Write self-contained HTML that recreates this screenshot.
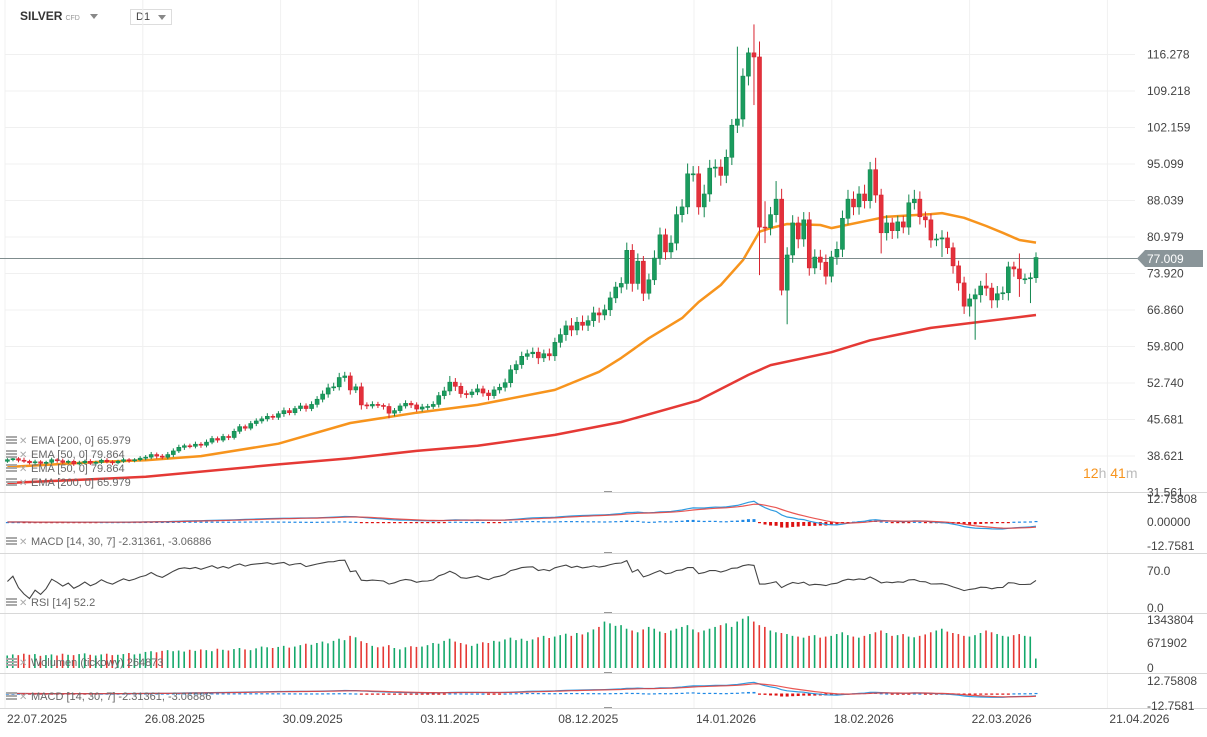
<!DOCTYPE html>
<html><head><meta charset="utf-8"><style>
html,body{margin:0;padding:0;background:#fff;width:1207px;height:737px;overflow:hidden;font-family:"Liberation Sans",sans-serif}
#hdr{position:absolute;left:20px;top:9px;font-size:12px;font-weight:bold;color:#333}
#cfd{font-size:7px;color:#999;font-weight:normal;margin-left:3px}
#tri{display:inline-block;width:0;height:0;border-left:4px solid transparent;border-right:4px solid transparent;border-top:5px solid #888;margin-left:10px;vertical-align:middle}
#tf{position:absolute;left:130px;top:9px;width:42px;height:16px;border:1px solid #ddd;font-size:11px;color:#444;box-sizing:border-box;padding:1px 5px}
#tf span{position:absolute;right:5px;top:5px;border-left:4px solid transparent;border-right:4px solid transparent;border-top:5px solid #888;width:0;height:0}
svg{position:absolute;left:0;top:0}
</style></head><body>
<div id="hdr">SILVER<span id="cfd">CFD</span><span id="tri"></span></div>
<div id="tf">D1<span></span></div>
<svg id="chart" width="1207" height="737"></svg>
<script>
const closes=[37.9,38.1,37.8,37.6,37.3,37.5,37.2,37.4,37.9,37.7,37.4,37.6,37.1,37.3,37.6,37.2,37.4,37.8,37.5,37.3,37.6,37.9,37.7,37.9,38.2,
38.4,38.9,38.6,38.4,38.9,39.6,40.3,40.6,40.5,40.9,40.7,41.3,42.0,41.7,42.4,42.2,43.4,44.3,44.0,44.9,45.4,
45.8,46.3,46.1,46.8,47.4,47.0,47.8,48.3,47.8,48.6,49.6,50.6,51.8,52.0,53.8,54.1,51.4,52.0,48.5,
48.3,48.6,48.4,48.2,46.9,47.4,48.3,48.8,48.5,47.7,48.1,48.2,48.6,50.3,51.2,52.9,
52.1,50.7,50.5,51.0,51.6,50.8,50.3,51.4,51.9,52.8,55.3,56.3,57.9,58.4,58.7,
57.6,58.4,58.0,60.6,62.1,63.8,63.0,64.5,63.9,64.8,66.3,
65.9,66.9,69.2,71.3,72.0,78.4,72.0,76.3,70.1,72.7,76.9,81.4,78.1,79.8,85.3,86.8,93.2,93.2,86.8,89.3,
94.3,94.5,92.9,96.4,102.6,103.8,112.1,116.6,115.8,82.9,82.8,85.3,88.3,70.7,77.5,83.7,80.6,84.3,75.0,77.1,
76.1,73.4,77.1,78.6,84.6,88.3,86.8,89.3,88.0,94.0,89.1,81.8,83.7,82.2,83.9,82.9,87.6,88.3,84.9,84.3,
80.4,80.6,80.8,78.9,75.4,72.1,67.6,69.0,69.8,71.5,71.1,68.8,70.0,70.2,75.2,74.8,72.9,72.9,73.1,77.01];
const firstOpen=37.6;
const upperWick=[.3,.4,.3,.5,.3,.4,.3,.3,.4,.3,.4,.3,.3,.4,.3,.4,.3,.3,.4,.3,.3,.4,.3,.3,.4,
.4,.5,.4,.4,.5,.5,.5,.4,.4,.5,.4,.5,.5,.4,.5,.4,.5,.5,.4,.5,.5,.5,.6,.4,.5,.6,.5,.5,.6,.5,.6,.6,.7,.8,.8,.9,.8,.7,.6,.8,
.5,.6,.5,.4,.6,.5,.5,.6,.5,.5,.6,.5,.6,.7,.8,1.2,.8,.7,.6,.6,.9,.6,.6,.7,.7,.8,.9,.8,.9,.8,.9,
.9,.8,1.0,.9,1.2,1.0,1.5,1.0,1.3,1.0,1.2,
1.0,1.0,1.2,1.0,1.2,1.5,1.2,1.5,1.0,1.2,1.5,1.4,1.2,1.5,1.6,1.5,2.0,1.5,1.5,1.8,
1.6,1.5,1.5,1.5,1.2,14,1.5,1.0,5.5,3.0,5.0,1.5,3.5,2.0,1.5,1.5,1.2,1.5,1.5,1.5,
1.4,1.5,1.2,1.5,1.5,1.8,1.5,1.5,1.8,1.5,2.3,1.2,1.5,1.0,1.2,1.2,1.6,1.8,1.5,1.0,
1.2,1.0,1.5,1.2,1.0,1.0,1.2,1.0,1.2,1.0,2.5,1.0,1.5,1.2,1.0,1.0,3.0,1.0,1.0,1.0];
const lowerWick=[.3,.3,.4,.3,.3,.3,.4,.3,.3,.4,.3,.3,.4,.3,.3,.3,.4,.3,.3,.4,.3,.3,.4,.3,.3,
.4,.4,.5,.4,.4,.5,.4,.5,.4,.4,.5,.4,.4,.5,.4,.5,.4,.5,.5,.4,.5,.5,.5,.5,.5,.6,.5,.5,.5,.6,.5,.6,.6,.7,.6,.7,.8,.9,.6,.9,
.6,.5,.5,.6,1.0,.6,.5,.5,.6,.5,.5,.6,.5,.6,.7,.8,.9,.8,.7,.6,.6,.7,.9,.6,.7,.8,.9,.8,.8,.7,.8,
1.2,.8,.9,1.0,1.0,1.2,1.2,1.0,1.0,1.1,1.2,
1.5,1.0,1.2,1.0,1.2,1.2,1.6,1.2,1.5,1.2,1.0,1.3,1.5,1.2,1.4,1.5,1.4,1.5,1.5,2.0,
1.5,1.8,2.0,1.5,1.5,1.5,1.5,1.8,9.3,9.3,3.0,1.5,1.5,1.0,6.6,1.5,1.8,1.5,1.5,1.2,
1.5,1.6,1.2,1.5,1.5,1.2,1.6,1.5,1.5,1.5,1.5,4.0,1.5,1.6,1.5,1.2,1.5,1.3,1.5,1.5,
1.5,1.2,3.5,1.2,1.5,1.5,1.5,2.0,7.9,1.5,1.5,1.6,1.5,1.2,1.5,1.5,3.5,1.0,4.7,1.0];
const volumes=[350,380,360,400,370,390,340,360,380,350,400,370,360,390,410,370,350,380,400,360,370,390,420,380,400,
450,470,440,480,500,470,490,460,510,480,520,500,470,540,510,490,530,560,520,500,550,600,580,560,590,
620,570,600,640,680,650,700,740,690,760,820,780,900,860,750,700,620,580,600,640,560,520,580,610,590,
600,640,700,680,760,820,740,700,660,620,680,720,700,760,740,800,850,780,820,760,800,860,900,840,880,
920,960,900,980,940,1000,1080,1150,1300,1250,1180,1200,1100,1050,1000,1080,1150,1100,1020,980,1050,1100,1150,1200,1080,
1000,1050,1100,1150,1200,1250,1150,1300,1380,1450,1300,1200,1150,1050,1000,980,950,900,880,850,900,920,850,880,900,
950,1000,920,880,850,900,950,1000,1050,980,900,920,950,880,860,900,940,1000,1050,1100,1020,980,950,900,880,
920,980,1050,1000,950,900,880,920,950,900,880,265];
const ema50Bars=[0,17,25,35,49,62,74,85,99,107,111,116,122,125,129,133,136,138,141,147,149,159,167,169,173,177,180,183,186];
const ema50Values=[36.5,37.5,37.8,38.6,41.0,45.0,47.0,48.5,51.4,54.9,57.6,61.4,65.3,68.4,71.7,76.5,82.0,82.7,83.5,83.3,82.7,84.9,85.4,85.6,84.7,83.1,81.8,80.4,79.9];
const ema200Bars=[0,25,49,62,74,85,99,111,125,134,138,149,156,167,186];
const ema200Values=[33.4,34.6,37.0,38.2,39.6,40.6,42.7,45.2,49.4,54.3,56.2,58.7,61.0,63.4,65.9];
const priceTicks=["116.278","109.218","102.159","95.099","88.039","80.979","73.920","66.860","59.800","52.740","45.681","38.621","31.561"];
const dateLabels=["22.07.2025","26.08.2025","30.09.2025","03.11.2025","08.12.2025","14.01.2026","18.02.2026","22.03.2026","21.04.2026"];

const NS="http://www.w3.org/2000/svg";
const svg=document.getElementById('chart');
function mk(tag,attrs,parent){const e=document.createElementNS(NS,tag);for(const k in attrs)e.setAttribute(k,attrs[k]);(parent||svg).appendChild(e);return e;}
const N=closes.length;
const xOf=i=>1036-(N-1-i)*5.53;
const yP=v=>310-(v-66.86)*5.17;
const yMacd=m=>522-m*1.803;
const yMacd2=m=>693.5-m*0.98;
const yRsi=r=>608-r*0.53;
const yVol=v=>668-v*1000/28000;
const opens=closes.map((c,i)=>i===0?firstOpen:closes[i-1]);

const g=mk('g',{});

priceTicks.forEach(t=>{const y=yP(parseFloat(t));mk('line',{x1:5,x2:1135,y1:y,y2:y,stroke:'#f0f0f0'},g);});
dateLabels.forEach((d,k)=>{const x=5+k*137.8;mk('line',{x1:x,x2:x,y1:0,y2:708,stroke:'#f0f0f0'},g);});
[492,553,613,673,708].forEach(y=>{mk('line',{x1:0,x2:1207,y1:y+.5,y2:y+.5,stroke:'#d8d8d8'},g);mk('line',{x1:604,x2:612,y1:y-.5,y2:y-.5,stroke:'#999'},g);});

function ema(arr,p,seed){const a=2/(p+1);let e=seed;return arr.map(v=>(e=e+a*(v-e)));}
function linePath(vals,yf){return vals.map((v,i)=>(i?'L':'M')+xOf(i).toFixed(1)+' '+yf(v).toFixed(1)).join('');}
function barPath(bars,vals,yf){return bars.map((b,i)=>(i?'L':'M')+xOf(b).toFixed(1)+' '+yf(vals[i]).toFixed(1)).join('');}

const l200=mk('path',{d:barPath(ema200Bars,ema200Values,yP),fill:'none',stroke:'#e53935','stroke-width':2.5,'stroke-linejoin':'round'});

const l50=mk('path',{d:barPath(ema50Bars,ema50Values,yP),fill:'none',stroke:'#f7941d','stroke-width':2.5,'stroke-linejoin':'round'});


const pl=mk('line',{x1:0,x2:1140,y1:258.5,y2:258.5,stroke:'#7f8c8d'});


const cg=mk('g',{});
for(let i=0;i<N;i++){
 const o=opens[i],c=closes[i],up=c>=o,x=xOf(i);
 const hi=Math.max(o,c)+upperWick[i],lo=Math.min(o,c)-lowerWick[i];
 const col=up?'#12874f':'#d9232f',fill=up?'#1a9c5e':'#e3303b';
 const w=mk('line',{x1:x,x2:x,y1:yP(hi),y2:yP(lo),stroke:col,'stroke-width':1},cg);
 
 const yt=yP(Math.max(o,c)),yb=yP(Math.min(o,c));
 const b=mk('rect',{x:x-2,y:yt,width:4,height:Math.max(1,yb-yt),fill:fill,stroke:col,'stroke-width':.6},cg);
 
}

const f=ema(closes,14,closes[0]),s=ema(closes,30,closes[0]);
const macd=f.map((v,i)=>v-s[i]);const sig=ema(macd,7,0);const hist=macd.map((v,i)=>v-sig[i]);
function macdPanel(yf,name,clipTop,clipBot){
 const gg=mk('g',{});
 hist.forEach((h,i)=>{const y0=yf(0),y1=yf(h);const r=mk('rect',{x:xOf(i)-1.5,y:Math.min(y0,y1),width:3,height:Math.max(1.2,Math.abs(y1-y0)),fill:h>=0?'#1e88e5':'#d11'},gg);
 });
 const cl=v=>Math.max(clipTop,Math.min(clipBot,yf(v)));
 const a=mk('path',{d:linePath(macd,cl),fill:'none',stroke:'#2f9be0','stroke-width':1.2},gg);
 
 const b=mk('path',{d:linePath(sig,cl),fill:'none',stroke:'#e53935','stroke-width':1.2,opacity:.85},gg);
 
}
macdPanel(yMacd,'macd-panel',494,552);
macdPanel(yMacd2,'macd-panel-2',675,707);

let ag=0,al=0;const rsi=[];
closes.forEach((c,i)=>{if(i===0){rsi.push(50);return;}const d=c-closes[i-1];ag=(ag*13+Math.max(d,0))/14;al=(al*13+Math.max(-d,0))/14;rsi.push(al===0?60:100-100/(1+ag/al));});
const rl=mk('path',{d:linePath(rsi,yRsi),fill:'none',stroke:'#444','stroke-width':1.1});


const vg=mk('g',{});
volumes.forEach((v,i)=>{const up=closes[i]>=opens[i];const r=mk('rect',{x:xOf(i)-1,y:yVol(v),width:1.6,height:668-yVol(v),fill:up?'#13a86a':'#e53935'},vg);
});

function txt(x,y,t,o){const e=mk('text',Object.assign({x:x,y:y,'font-size':12,fill:'#444','font-family':'Liberation Sans, sans-serif'},o||{}));e.textContent=t;return e;}
priceTicks.forEach(t=>{const e=txt(1147,yP(parseFloat(t))+4,t);});
[["12.75808",503],["0.00000",526],["-12.7581",550],["70.0",575],["0.0",612],["1343804",624],["671902",647],["0",672],["12.75808",685],["-12.7581",710]].forEach(a=>{const e=txt(1147,a[1],a[0]);});
dateLabels.forEach((d,k)=>{const e=txt(7+k*137.8,723,d);});

const tag=mk('g',{});
mk('path',{d:'M1137 258.5 L1145 250 L1203 250 L1203 267 L1145 267 Z',fill:'#8a9599'},tag);
txt(1147,263,'77.009',{fill:'#fff'});
const cd=txt(1083,478,'',{'font-size':14});
cd.innerHTML='<tspan fill="#f7941d">12</tspan><tspan fill="#bbb">h </tspan><tspan fill="#f7941d">41</tspan><tspan fill="#bbb">m</tspan>';

function legend(y,t,name){const gg=mk('g',{});
 for(let k=0;k<3;k++)mk('rect',{x:6,y:y-8+k*3,width:11,height:2,fill:'#aaa'},gg);
 txt(19,y,'✕',{'font-size':10,fill:'#aaa'});
 txt(31,y,t,{'font-size':11,fill:'#666'});}
legend(444,'EMA [200, 0] 65.979','ema-200-legend');
legend(458,'EMA [50, 0] 79.864','ema-50-legend');
legend(472,'EMA [50, 0] 79.864','ema-50-legend-2');
legend(486,'EMA [200, 0] 65.979','ema-200-legend-2');
legend(545,'MACD [14, 30, 7] -2.31361, -3.06886','macd-legend');
legend(606,'RSI [14] 52.2','rsi-legend');
legend(666,'Wolumen (tickowy) 264873','volume-legend');
legend(700,'MACD [14, 30, 7] -2.31361, -3.06886','macd-legend-2');
</script>
</body></html>
